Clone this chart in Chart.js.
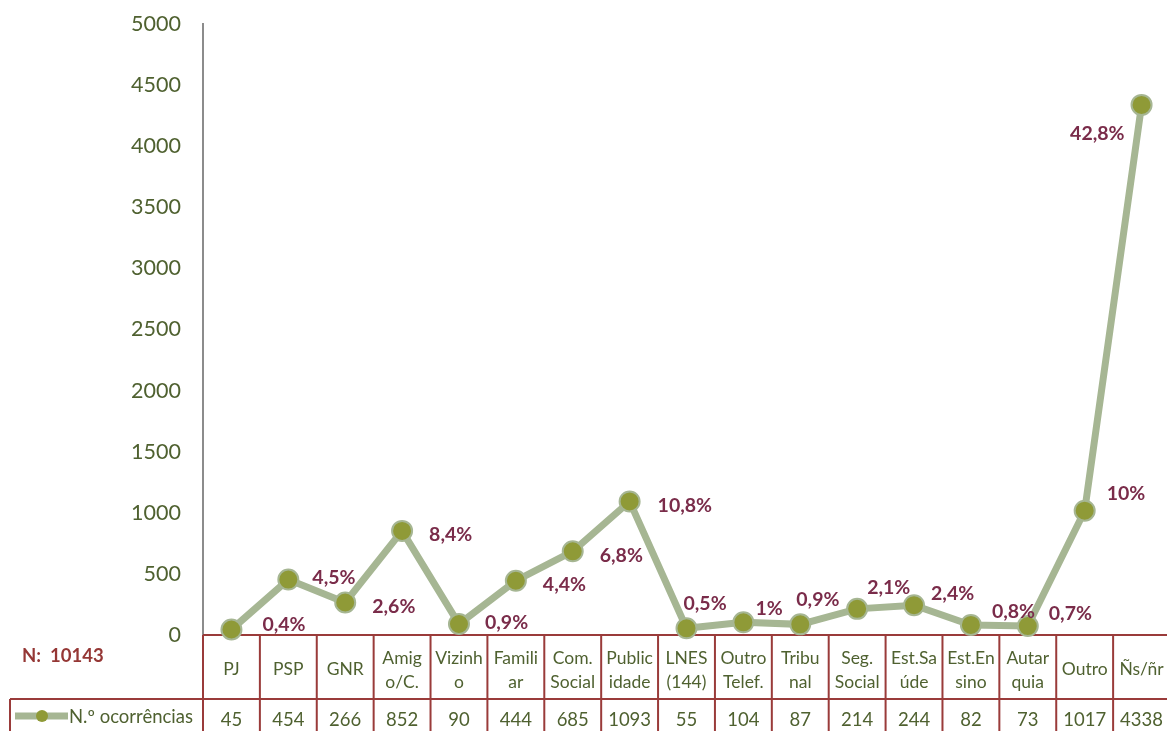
<!DOCTYPE html>
<html><head><meta charset="utf-8">
<script src="https://cdn.jsdelivr.net/npm/chart.js@4/dist/chart.umd.min.js"></script>
<style>html,body{margin:0;padding:0;overflow:hidden;background:#fff}canvas{display:block}</style>
</head><body><canvas id="c" width="1182" height="731"></canvas>
<script>
const categories = [["PJ"],["PSP"],["GNR"],["Amig","o/C."],["Vizinh","o"],["Famili","ar"],["Com.","Social"],["Public","idade"],["LNES","(144)"],["Outro","Telef."],["Tribu","nal"],["Seg.","Social"],["Est.Sa","úde"],["Est.En","sino"],["Autar","quia"],["Outro"],["Ñs/ñr"]];
const occurrences = [45,454,266,852,90,444,685,1093,55,104,87,214,244,82,73,1017,4338];
const percentLabels = ["0,4%","4,5%","2,6%","8,4%","0,9%","4,4%","6,8%","10,8%","0,5%","1%","0,9%","2,1%","2,4%","0,8%","0,7%","10%","42,8%"];
const seriesName = "N.º ocorrências";
const totalLabel = "N:  10143";
const yMin = 0, yMax = 5000, yStep = 500;

const FONT = "Lato, 'Open Sans', sans-serif";
const LINE_COLOR = "#A6B693";
const POINT_COLOR = "#8F9A37";
const TEXT_COLOR = "#4F6130";
const LABEL_COLOR = "#7A2C4A";
const TABLE_COLOR = "#9A3B3A";

const tablePlugin = {
  id: 'dataTable',
  beforeDatasetsDraw(chart, args, opts) {
    const ctx = chart.ctx, ca = chart.chartArea;
    const n = chart.data.labels.length;
    const colW = (ca.right - ca.left) / n;
    const top1 = ca.bottom, top2 = opts.row2Top, bottom = chart.height + 10;
    ctx.save();
    ctx.strokeStyle = TABLE_COLOR; ctx.lineWidth = 2;
    ctx.beginPath();
    ctx.moveTo(ca.left, top1); ctx.lineTo(ca.right + 5, top1);
    ctx.moveTo(opts.tableLeft, top2); ctx.lineTo(ca.right + 5, top2);
    for (let k = 0; k <= n; k++) {
      const x = ca.left + colW * k;
      ctx.moveTo(x, top1); ctx.lineTo(x, bottom);
    }
    ctx.moveTo(opts.tableLeft, top2); ctx.lineTo(opts.tableLeft, bottom);
    ctx.stroke();
    ctx.fillStyle = TEXT_COLOR; ctx.textAlign = 'center'; ctx.textBaseline = 'middle';
    ctx.font = "17.5px " + FONT;
    const xs = chart.scales.x;
    const midY = (top1 + top2) / 2 + 2;
    chart.data.labels.forEach((lab, i) => {
      const x = xs.getPixelForValue(i);
      if (lab.length === 1) ctx.fillText(lab[0], x, midY);
      else { ctx.fillText(lab[0], x, midY - 11); ctx.fillText(lab[1], x, midY + 13); }
    });
    ctx.font = "18.5px " + FONT;
    const vy = top2 + 21;
    chart.data.datasets[0].data.forEach((v, i) => {
      ctx.fillText(String(v), xs.getPixelForValue(i), vy);
    });
    const ly = top2 + 17;
    ctx.strokeStyle = LINE_COLOR; ctx.lineWidth = 7; ctx.lineCap = 'butt';
    ctx.beginPath(); ctx.moveTo(15, ly); ctx.lineTo(68, ly); ctx.stroke();
    ctx.fillStyle = POINT_COLOR; ctx.beginPath(); ctx.arc(42, ly, 6, 0, Math.PI * 2); ctx.fill();
    ctx.fillStyle = TEXT_COLOR; ctx.textAlign = 'left'; ctx.font = "18.5px " + FONT;
    ctx.fillText(chart.data.datasets[0].label, 69, ly + 1);
    ctx.fillStyle = "#953735"; ctx.font = "bold 18.5px " + FONT;
    ctx.fillText(totalLabel, 22, 656);
    ctx.restore();
  }
};

const labelPlugin = {
  id: 'pctLabels',
  afterDatasetsDraw(chart, args, opts) {
    const ctx = chart.ctx;
    const meta = chart.getDatasetMeta(0);
    ctx.save();
    ctx.fillStyle = LABEL_COLOR; ctx.font = "bold 19.5px " + FONT; ctx.textBaseline = 'middle';
    meta.data.forEach((pt, i) => {
      const o = opts.offsets[i] || [27, 3, 'left'];
      ctx.textAlign = o[2] || 'left';
      ctx.fillText(percentLabels[i], pt.x + o[0], pt.y + o[1]);
    });
    ctx.restore();
  }
};

new Chart(document.getElementById('c'), {
  type: 'line',
  data: {
    labels: categories,
    datasets: [{
      label: seriesName,
      data: occurrences,
      borderColor: LINE_COLOR,
      borderWidth: 7,
      pointBackgroundColor: POINT_COLOR,
      pointBorderColor: LINE_COLOR,
      pointBorderWidth: 2,
      pointRadius: 10,
      pointHoverRadius: 10,
      tension: 0,
      clip: false
    }]
  },
  options: {
    responsive: false,
    animation: false,
    events: [],
    layout: { padding: { top: 24, bottom: 96, left: 0, right: 0 } },
    plugins: {
      legend: { display: false },
      tooltip: { enabled: false },
      dataTable: { row2Top: 699, tableLeft: 10 },
      pctLabels: {
        offsets: [
          [31, -5], [24, -2], [27, 4], [27, 4], [26, -1], [27, 4], [27, 4], [28, 4],
          [-3, -25], [12, -14], [-4, -25], [10, -21], [17, -11], [21, -13], [21, -12],
          [22, -17], [-17, 29, 'right']
        ]
      }
    },
    scales: {
      x: { display: false, offset: true, grid: { display: false } },
      y: {
        min: yMin, max: yMax,
        ticks: { stepSize: yStep, padding: 22, color: TEXT_COLOR, font: { size: 21.5, family: FONT },
                 callback: (v) => String(v) },
        grid: { display: false, drawTicks: false },
        border: { display: true, color: '#8C8C8C', width: 2 },
        afterFit(scale) { scale.width = 203; scale.paddingTop = 0; scale.paddingBottom = 0; }
      }
    }
  },
  plugins: [tablePlugin, labelPlugin]
});
</script>
</body></html>
